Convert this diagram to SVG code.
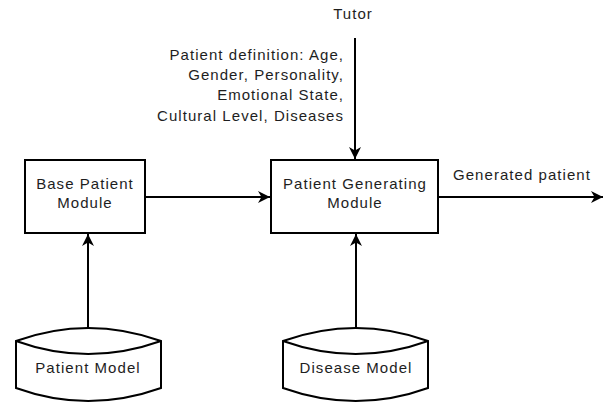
<svg xmlns="http://www.w3.org/2000/svg" width="604" height="403" viewBox="0 0 604 403">
<style>
  text { font-family: "Liberation Sans", Arial, sans-serif; font-size: 15px; fill: #1e1e1e; letter-spacing: 1.05px; }
  .c { text-anchor: middle; }
  .r { text-anchor: end; }
  .box { fill: #fff; stroke: #000; stroke-width: 2; }
  .edge { fill: none; stroke: #000; stroke-width: 2; marker-end: url(#ah); }
</style>
<defs>
  <marker id="ah" markerUnits="userSpaceOnUse" markerWidth="14" markerHeight="12" refX="12" refY="6" orient="auto" viewBox="0 0 14 12">
    <path d="M0,0 L12,6 L0,12 L3.5,6 Z" fill="#000"/>
  </marker>
</defs>
<rect width="604" height="403" fill="#fff"/>
<g id="connectors">
  <line class="edge" x1="355" y1="38" x2="355" y2="159"/>
  <line class="edge" x1="145" y1="197" x2="270" y2="197"/>
  <line class="edge" x1="438" y1="197" x2="603" y2="197"/>
  <line class="edge" x1="88" y1="328" x2="88" y2="234"/>
  <line class="edge" x1="356" y1="328" x2="356" y2="234"/>
</g>
<g id="tutor">
  <text class="c" x="353" y="19">Tutor</text>
</g>
<g id="patient-definition-label">
  <text class="r" x="344" y="60">Patient definition: Age,</text>
  <text class="r" x="344" y="80">Gender, Personality,</text>
  <text class="r" x="344" y="100">Emotional State,</text>
  <text class="r" x="344" y="121">Cultural Level, Diseases</text>
</g>
<g id="base-patient-module">
  <rect class="box" x="25" y="160" width="120" height="73"/>
  <text class="c" x="85" y="189">Base Patient</text>
  <text class="c" x="85" y="208">Module</text>
</g>
<g id="patient-generating-module">
  <rect class="box" x="271" y="160" width="167" height="73"/>
  <text class="c" x="355" y="189">Patient Generating</text>
  <text class="c" x="355" y="208">Module</text>
</g>
<g id="generated-patient-label">
  <text x="453" y="180">Generated patient</text>
</g>
<g id="patient-model">
  <path class="box" d="M16,341 Q88,315 161,341 L161,388 Q88,414 16,388 Z"/>
  <path fill="none" stroke="#000" stroke-width="2" d="M16,341 Q88,367 161,341"/>
  <text class="c" x="88" y="373">Patient Model</text>
</g>
<g id="disease-model">
  <path class="box" d="M283,341 Q356,315 428,341 L428,388 Q356,414 283,388 Z"/>
  <path fill="none" stroke="#000" stroke-width="2" d="M283,341 Q356,367 428,341"/>
  <text class="c" x="356" y="373">Disease Model</text>
</g>
</svg>
